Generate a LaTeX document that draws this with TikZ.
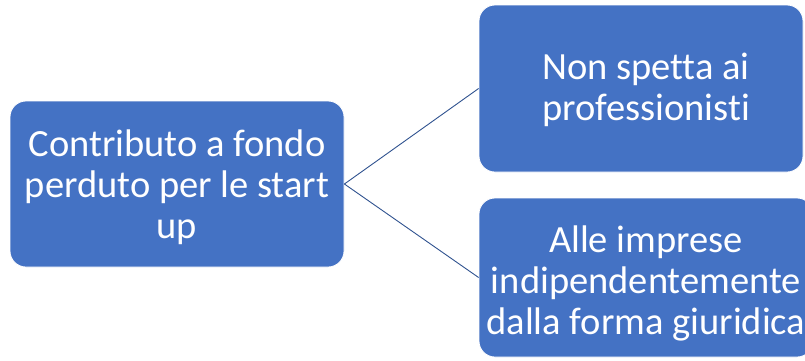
\documentclass[tikz,border=0pt]{standalone}
\usepackage{fontspec}
\setmainfont[Ligatures={NoCommon}]{Carlito}
\definecolor{boxblue}{HTML}{4472C4}
\definecolor{linkblue}{HTML}{2F528F}
\begin{document}
\begin{tikzpicture}[x=1pt,y=-1pt,
  box/.style={draw=white,line width=0.8pt,fill=boxblue,rounded corners=16pt,inner sep=0pt},
  label/.style={text=white,align=center,inner sep=0pt,font=\fontsize{38.5}{41}\selectfont},
  link/.style={draw=linkblue,line width=0.9pt}]
\useasboundingbox (0,0) rectangle (805,360);
\clip (0,0) rectangle (805,360);
\node[box,minimum width=334pt,minimum height=166pt] (main) at (177,184) {};
\node[box,minimum width=324pt,minimum height=167pt] (top) at (641,88.5) {};
\node[box,minimum width=334pt,minimum height=159pt] (bot) at (646,277.5) {};
\node[label] (maint) at (177,187) {Contributo a fondo\\perduto per le start\\up};
\node[label] (topt) at (646,90) {Non spetta ai\\professionisti};
\node[label] (bott) at (646,283) {Alle imprese\\indipendentemente\\dalla forma giuridica};
\draw[link] (main.east) -- (top.west);
\draw[link] (main.east) -- (bot.west);
\end{tikzpicture}
\end{document}
